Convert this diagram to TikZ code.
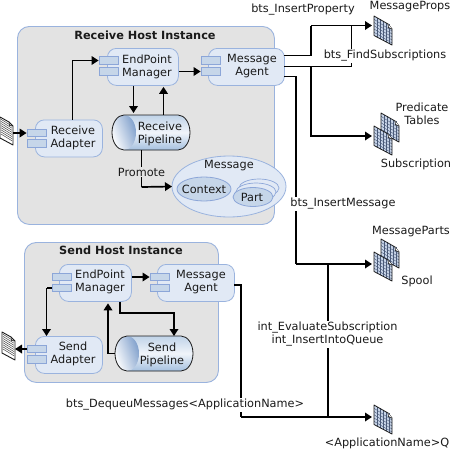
\documentclass[tikz,border=0pt]{standalone}
\usepackage{fontspec}
\setmainfont{DejaVu Sans}
\usetikzlibrary{arrows.meta,shadings}
\definecolor{hostfill}{HTML}{E3E3E3}
\definecolor{edgeblue}{HTML}{9AB3DE}
\definecolor{compfill}{HTML}{E1E9F5}
\definecolor{tabfill}{HTML}{C6D6E9}
\definecolor{tabedge}{HTML}{8CA6D8}
\definecolor{innerfill}{HTML}{C6D6E9}
\definecolor{ink}{HTML}{1A1A1A}
\definecolor{tablefill}{HTML}{C9D6EA}
\definecolor{tablegrid}{HTML}{4A5A78}
\definecolor{pipetop}{HTML}{C0D3E8}
\definecolor{pipemid}{HTML}{F0F4FA}
\definecolor{pipebot}{HTML}{A5C0DF}
\definecolor{capblue}{HTML}{7F9FCB}
\tikzset{
  every node/.style={font=\fontsize{11.3}{13}\selectfont,text=ink,align=center,inner sep=0pt},
  hostbox/.style={draw=edgeblue,fill=hostfill,rounded corners=12pt,line width=.9pt},
  hosttitle/.style={font=\fontsize{11.3}{13}\selectfont\bfseries},
  comp/.style={draw=edgeblue,fill=compfill,rounded corners=9pt,line width=.8pt,minimum height=37pt},
  tabbox/.style={draw=tabedge,fill=tabfill,line width=.8pt,minimum width=19pt,minimum height=7.5pt},
  conn/.style={draw=black,line width=1.7pt},
  arr/.style={conn,-{Triangle[length=7pt,width=8.5pt]}},
  lbl/.style={fill=white,inner xsep=1pt,inner ysep=1pt},
  glbl/.style={fill=hostfill,inner xsep=1pt,inner ysep=1pt},
}
\newcommand{\tableicon}[2]{%
  \begin{scope}[shift={(#1,#2)}]
    \fill[tablefill] (0,0) -- (14,8) -- (18,13) -- (18,29) -- (0,19.5) -- cycle;
    \foreach \i in {1,...,5}{\draw[tablegrid,line width=.4pt] ({3*\i},{\i*1.65}) -- ({3*\i},{19.5+\i*1.6});}
    \foreach \j in {1,...,5}{\draw[tablegrid,line width=.4pt] (0,{3.25*\j}) -- (18,{12+3.0*\j});}
    \draw[ink,line width=.8pt,line join=round] (0,0) -- (14,8) -- (18,13) -- (18,29) -- (0,19.5) -- cycle;
    \fill[white] (14,8) -- (18,13) -- (14.5,11.5) -- cycle;
    \draw[ink,line width=.6pt] (14,8) -- (14.5,11.5) -- (18,13);
  \end{scope}}
\newcommand{\docicon}[2]{%
  \begin{scope}[shift={(#1,#2)}]
    \fill[white] (0,0) -- (9,5) -- (13,9) -- (13,28) -- (0,21) -- cycle;
    \foreach \j in {1,...,8}{\draw[ink!80,line width=.5pt] (1,{2.1*\j+.2}) -- (12,{7+2.1*\j});}
    \draw[ink,line width=.9pt,line join=round] (0,0) -- (9,5) -- (13,9) -- (13,28) -- (0,21) -- cycle;
    \draw[ink,line width=.5pt] (9,5) -- (9.5,8.5) -- (13,9);
  \end{scope}}
\newcommand{\pipe}[4]{%
  \begin{scope}[shift={(#1,#2)}]
    \shade[top color=pipetop,bottom color=pipebot,middle color=pipemid]
      (12,0) -- ({#3-12},0) arc[start angle=270,end angle=450,x radius=12,y radius={#4/2}]
      -- (12,#4) arc[start angle=90,end angle=270,x radius=12,y radius={#4/2}] -- cycle;
    \shade[top color=capblue,bottom color=white,shading angle=-70]
      (12,{#4/2}) ellipse[x radius=12,y radius={#4/2}];
    \draw[ink,line width=.8pt] (12,0) -- ({#3-12},0) arc[start angle=270,end angle=450,x radius=12,y radius={#4/2}]
      -- (12,#4) arc[start angle=90,end angle=270,x radius=12,y radius={#4/2}] -- cycle;
  \end{scope}}
\begin{document}
\begin{tikzpicture}[x=1pt,y=-1pt]
\useasboundingbox (0,0) rectangle (452,450);
\fill[white] (0,0) rectangle (452,450);

% hosts
\node[hostbox,anchor=north west,minimum width=257pt,minimum height=198pt] (rhost) at (17,26) {};
\node[hosttitle] (rtitle) at (145,35) {Receive Host Instance};
\node[hostbox,anchor=north west,minimum width=194pt,minimum height=140pt] (shost) at (24,242) {};
\node[hosttitle] (stitle) at (121,250) {Send Host Instance};

% pipelines
\pipe{112}{115}{78}{35}
\pipe{115}{336}{78}{35}
\coordinate (rpw) at (112,132.5);
\coordinate (spw) at (115,353.5);
\node (rpipe) at (160,133.5) {Receive\\Pipeline};
\node (spipe) at (162,354.5) {Send\\Pipeline};
\coordinate (rpn) at (163.5,115);
\coordinate (rpnl) at (133.5,115);
\coordinate (rps) at (141.5,150);
\coordinate (spn) at (174,336);

% components
\node[comp,minimum width=71pt,anchor=north west] (rem) at (107,48) {};
\node (remt) at (147,66.5) {EndPoint\\Manager};
\node[tabbox] (remt1) at (108.5,60.5) {};
\node[tabbox] (remt2) at (108.5,71.5) {};

\node[comp,minimum width=76pt,anchor=north west] (rma) at (208,48) {};
\node (rmat) at (252,66.5) {Message\\Agent};
\node[tabbox] (rmat1) at (210.5,60.5) {};
\node[tabbox] (rmat2) at (210.5,71.5) {};

\node[comp,minimum width=67pt,anchor=north west] (rad) at (35,119.5) {};
\node (radt) at (73,138) {Receive\\Adapter};
\node[tabbox] (radt1) at (36.5,133) {};
\node[tabbox] (radt2) at (36.5,143.5) {};

\node[comp,minimum width=72pt,anchor=north west] (sem) at (59,264) {};
\node (semt) at (100,282) {EndPoint\\Manager};
\node[tabbox] (semt1) at (61.5,277) {};
\node[tabbox] (semt2) at (61.5,288) {};

\node[comp,minimum width=77pt,anchor=north west] (sma) at (157,264) {};
\node (smat) at (201,282) {Message\\Agent};
\node[tabbox] (smat1) at (159.5,277) {};
\node[tabbox] (smat2) at (159.5,288) {};

\node[comp,minimum width=67pt,anchor=north west] (sad) at (35,336) {};
\node (sadt) at (73,354) {Send\\Adapter};
\node[tabbox] (sadt1) at (36.5,349) {};
\node[tabbox] (sadt2) at (36.5,359.5) {};

% message ellipse
\fill[compfill] (229,186.5) ellipse[x radius=57,y radius=30.5];
\draw[edgeblue,line width=.8pt] (229,186.5) ellipse[x radius=57,y radius=30.5];
\coordinate (msgw) at (172,186.5);
\node (msgt) at (229,166) {Message};
\draw[tabedge,fill=innerfill,line width=.8pt] (204,189) ellipse[x radius=27,y radius=12];
\node (ctx) at (204,189) {Context};
\draw[tabedge,fill=compfill,line width=.7pt] (259,188) ellipse[x radius=20,y radius=9];
\draw[tabedge,fill=compfill,line width=.7pt] (256,192) ellipse[x radius=20,y radius=9];
\draw[tabedge,fill=innerfill,line width=.8pt] (253,197) ellipse[x radius=20,y radius=9.5];
\node (part) at (252,197) {Part};

% data icons
\docicon{0}{117}
\docicon{2}{332}
\coordinate (dr) at (13,133);
\coordinate (ds) at (15,349);
\tableicon{374}{16}
\tableicon{381}{113}
\tableicon{374}{126}
\tableicon{381}{239}
\tableicon{374}{252}
\tableicon{374}{405}
\coordinate (tprops) at (372,25.5);
\coordinate (tsub) at (372,136);
\coordinate (tspool) at (372,264);
\coordinate (tq) at (372,417);

% junctions
\coordinate (j1) at (311,55.5);
\coordinate (j1t) at (311,25.5);
\coordinate (j2) at (351.5,66.5);
\coordinate (j2t) at (351.5,25.5);
\coordinate (j3) at (311,66.5);
\coordinate (j3b) at (311,136);
\coordinate (j4) at (296,76.5);
\coordinate (j4b) at (296,264);
\coordinate (j5) at (328,264);
\coordinate (j5b) at (328,417);
\coordinate (j6) at (241,285);
\coordinate (j6b) at (241,417);
\coordinate (ra1) at (284,55.5);
\coordinate (ra2) at (284,66.5);
\coordinate (ra3) at (284,76.5);
\coordinate (sa1) at (234,285);

% connectors
\draw[arr] (dr) -- (radt1.west |- dr);
\draw[arr] (rad.north -| 72.5,0) |- (remt1.west);
\draw[arr] (rem.south -| rpnl) -- ([yshift=2pt]rpnl);
\draw[arr] (rpn) -- ([yshift=-1pt]rem.south -| rpn);
\draw[arr] (rem.east |- remt2) -- (rmat2.west);
\draw[conn,line join=miter] (ra1) -- (j1) -- (j1t);
\draw[arr] (j1t) -- (tprops);
\draw[conn] (ra2) -- (j2) -- (j2t);
\draw[arr] (j3) -- (j3b) -- (tsub);
\draw[conn] (ra3) -- (j4) -- (j4b);
\draw[arr] (j4b) -- (tspool);
\draw[conn] (j5) -- (j5b);
\draw[conn] (sa1) -- (j6) -- (j6b);
\draw[arr] (j6b) -- (tq);
\draw[conn] (rps) -- (141.5,187);
\draw[arr] (141.5,187) -- (msgw);
\draw[arr] (sem.east |- semt1) -- (smat1.west);
\draw[conn] (semt2.west) -- (46.5,288);
\draw[arr] (46.5,288) -- (sad.north -| 46.5,0);
\draw[arr] (sadt1.west) -- (ds);
\draw[arr] (spw) -- (108,353.5) -- ([yshift=-1.5pt]sem.south -| 108,0);
\draw[arr] (sem.south -| 120,0) -- (120,313) -| (spn);

% labels
\node[glbl] (promote) at (141.5,172) {Promote};
\node (l1) at (303,10) {bts\_InsertProperty};
\node (l2) at (410,7) {MessageProps};
\node[lbl] (l3) at (385,56) {bts\_FindSubscriptions};
\node (l4) at (422,113.5) {Predicate\\Tables};
\node (l5) at (416,164) {Subscription};
\node[lbl] (l6) at (343,204) {bts\_InsertMessage};
\node (l7) at (411,232) {MessageParts};
\node (l8) at (417,281) {Spool};
\node[lbl] (l9) at (327.5,334.5) {int\_EvaluateSubscription\\int\_InsertIntoQueue};
\node[lbl] (l10) at (185,405) {bts\_DequeuMessages<ApplicationName>};
\node (l11) at (387,443) {<ApplicationName>Q};
\end{tikzpicture}
\end{document}
